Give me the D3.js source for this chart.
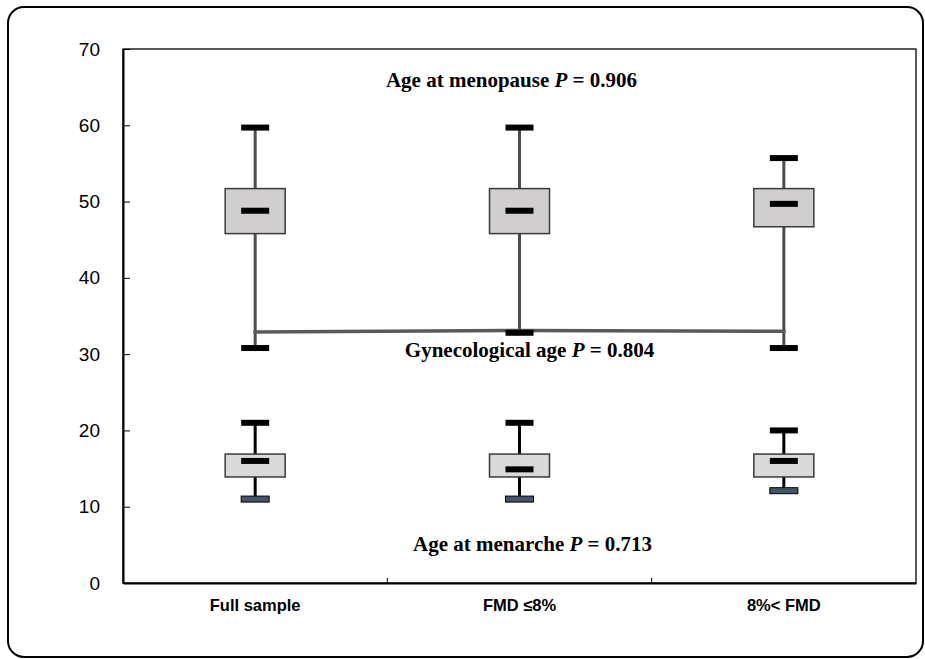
<!DOCTYPE html>
<meta charset="utf-8">
<style>
body { margin: 0; background: #fff; }
.ylab { font: 19px "Liberation Sans", Arial, sans-serif; fill: #000; }
.xlab { font: bold 16.5px "Liberation Sans", Arial, sans-serif; fill: #000; }
.note { font: bold 21px "Liberation Serif", "Times New Roman", serif; fill: #000; }
</style>
<body>
<script src="https://cdn.jsdelivr.net/npm/d3@7"></script>
<script>

var groups = ["Full sample", "FMD \u22648%", "8%< FMD"];

// age at menopause: whisker low, Q1, median, Q3, whisker high
var menoMin = [30.8, 32.8, 30.8],
    menoQ1  = [45.8, 45.8, 46.7],
    menoMed = [48.8, 48.8, 49.7],
    menoQ3  = [51.7, 51.7, 51.7],
    menoMax = [59.7, 59.7, 55.7];

// age at menarche
var menaMin = [11, 11, 12.1],
    menaQ1  = [13.9, 13.9, 13.9],
    menaMed = [16, 14.9, 16],
    menaQ3  = [16.9, 16.9, 16.9],
    menaMax = [21, 21, 20];

// gynecological age line
var gynAge = [32.9, 33.1, 33.0];

var yTicks = [0, 10, 20, 30, 40, 50, 60, 70];

var noteLabels = ["Age at menopause ", "Gynecological age ", "Age at menarche "],
    noteP = ["0.906", "0.804", "0.713"],
    noteAt = [65, 29.6, 4.2];   // y value of each note's baseline

var width = 925,
    height = 659;

var svg = d3.select("body").append("svg")
    .attr("width", width)
    .attr("height", height);

// outer frame
svg.append("rect")
    .attr("x", 8).attr("y", 7)
    .attr("width", 915).attr("height", 650)
    .attr("rx", 16).attr("ry", 16)
    .attr("fill", "none")
    .attr("stroke", "#000")
    .attr("stroke-width", 2);

var plotLeft = 123, plotRight = 916, plotTop = 49, plotBottom = 583;

var x = d3.scaleBand().domain(groups).range([plotLeft, plotRight]);
var y = d3.scaleLinear().domain([0, 70]).range([plotBottom, plotTop]);

// plot frame
svg.append("rect")
    .attr("x", plotLeft).attr("y", plotTop)
    .attr("width", plotRight - plotLeft).attr("height", plotBottom - plotTop)
    .attr("fill", "none")
    .attr("stroke", "#000")
    .attr("stroke-width", 1.3);

// y axis
var yAxis = svg.append("g")
    .attr("transform", "translate(" + plotLeft + ",0)")
    .call(d3.axisLeft(y).tickValues(yTicks).tickSizeInner(-7).tickSizeOuter(0).tickPadding(23));
yAxis.select(".domain").attr("stroke-width", 2);
yAxis.selectAll("text").attr("class", "ylab").attr("font-family", null).attr("font-size", null);

// x axis
var xAxis = svg.append("g")
    .attr("transform", "translate(0," + plotBottom + ")")
    .call(d3.axisBottom(x).tickSize(0).tickPadding(16));
xAxis.select(".domain").attr("stroke-width", 2);
xAxis.selectAll("text").attr("class", "xlab").attr("font-family", null).attr("font-size", null);

// category dividers on the x axis
svg.selectAll(".divider")
    .data(groups.slice(1))
  .enter().append("line")
    .attr("x1", function(d) { return x(d); })
    .attr("x2", function(d) { return x(d); })
    .attr("y1", plotBottom)
    .attr("y2", plotBottom - 5)
    .attr("stroke", "#000");

function cx(i) { return x(groups[i]) + x.bandwidth() / 2; }

var boxW = 60, barW = 28, barH = 6;

function drawBoxes(mins, q1s, meds, q3s, maxs, whiskerColor, fill) {
  var g = svg.append("g");
  var idx = d3.range(groups.length);

  g.selectAll(".whisker")
      .data(idx)
    .enter().append("line")
      .attr("x1", cx).attr("x2", cx)
      .attr("y1", function(i) { return y(maxs[i]); })
      .attr("y2", function(i) { return y(mins[i]); })
      .attr("stroke", whiskerColor)
      .attr("stroke-width", 3);

  g.selectAll(".box")
      .data(idx)
    .enter().append("rect")
      .attr("x", function(i) { return cx(i) - boxW / 2; })
      .attr("y", function(i) { return y(q3s[i]); })
      .attr("width", boxW)
      .attr("height", function(i) { return y(q1s[i]) - y(q3s[i]); })
      .attr("fill", fill)
      .attr("stroke", "#3a3a3a")
      .attr("stroke-width", 1.5);

  g.selectAll(".median")
      .data(idx)
    .enter().append("rect")
      .attr("x", function(i) { return cx(i) - barW / 2; })
      .attr("y", function(i) { return y(meds[i]) - barH / 2; })
      .attr("width", barW)
      .attr("height", barH)
      .attr("fill", "#000");

  g.selectAll(".capHi")
      .data(idx)
    .enter().append("rect")
      .attr("x", function(i) { return cx(i) - barW / 2; })
      .attr("y", function(i) { return y(maxs[i]) - barH / 2; })
      .attr("width", barW)
      .attr("height", barH)
      .attr("fill", "#000");

  return g;
}

function drawLowCaps(mins, fill) {
  svg.append("g").selectAll("rect")
      .data(d3.range(groups.length))
    .enter().append("rect")
      .attr("x", function(i) { return cx(i) - barW / 2; })
      .attr("y", function(i) { return y(mins[i]) - barH / 2; })
      .attr("width", barW)
      .attr("height", barH)
      .attr("fill", fill)
      .attr("stroke", fill === "#000" ? "none" : "#000")
      .attr("stroke-width", 1);
}

drawBoxes(menoMin, menoQ1, menoMed, menoQ3, menoMax, "#4d4d4d", "#d0cece");

// gynecological age connecting line
var line = d3.line()
    .x(function(d, i) { return cx(i); })
    .y(function(d) { return y(d); });

svg.append("path")
    .datum(gynAge)
    .attr("d", line)
    .attr("fill", "none")
    .attr("stroke", "#595959")
    .attr("stroke-width", 3.5)
    .attr("stroke-linecap", "square");

drawLowCaps(menoMin, "#000");

drawBoxes(menaMin, menaQ1, menaMed, menaQ3, menaMax, "#000", "#d9d9d9");
drawLowCaps(menaMin, "#44546a");

// p-value notes, centred a little right of the middle category
var noteShift = [-8, 10, 13];

var noteText = svg.selectAll(".note")
    .data(d3.range(noteLabels.length))
  .enter().append("text")
    .attr("class", "note")
    .attr("x", function(i) { return cx(1) + noteShift[i]; })
    .attr("y", function(i) { return y(noteAt[i]); })
    .attr("text-anchor", "middle");

noteText.append("tspan").text(function(i) { return noteLabels[i]; });
noteText.append("tspan").attr("font-style", "italic").text("P");
noteText.append("tspan").text(function(i) { return " = " + noteP[i]; });

</script>
